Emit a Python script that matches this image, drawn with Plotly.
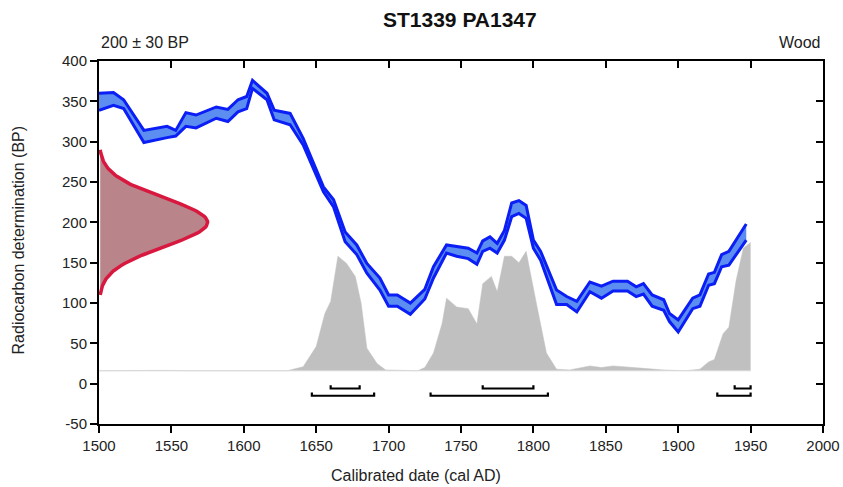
import numpy as np
import plotly.graph_objects as go

# ---- Data ----
c14_mean = 200
c14_sd = 30
red_scale_years = 75  # peak width of measurement curve along x (years)

cal_years = [1500, 1510, 1517, 1531, 1547, 1553, 1560, 1567, 1581, 1589, 1596, 1602, 1606, 1616, 1621,
             1632, 1641, 1655, 1662, 1670, 1678, 1685, 1694, 1700, 1706, 1715, 1725, 1731, 1740, 1747,
             1755, 1761, 1765, 1770, 1775, 1780, 1785, 1790, 1795, 1800, 1805, 1816, 1823, 1830, 1839,
             1847, 1855, 1865, 1871, 1876, 1882, 1890, 1894, 1900, 1910, 1915, 1921, 1925, 1930, 1935, 1947]
cal_upper = [360, 361, 352, 314, 319, 314, 336, 333, 343, 340, 352, 356, 376, 360, 339,
             335, 304, 244, 228, 188, 172, 149, 131, 110, 110, 100, 117, 145, 172, 170,
             168, 162, 177, 182, 174, 190, 224, 227, 221, 178, 164, 116, 108, 102, 126,
             121, 127, 127, 120, 124, 110, 104, 87, 79, 106, 110, 136, 138, 160, 164, 198]
cal_lower = [339, 345, 341, 299, 305, 307, 319, 317, 329, 325, 337, 341, 366, 352, 327,
             321, 296, 238, 219, 176, 160, 137, 116, 96, 96, 86, 105, 131, 162, 158,
             155, 148, 164, 168, 162, 178, 207, 211, 205, 168, 153, 98, 98, 89, 114,
             106, 115, 115, 108, 111, 96, 91, 77, 64, 93, 96, 122, 124, 145, 147, 178]

post_years = [1500, 1520, 1530, 1545, 1560, 1600, 1630, 1641, 1650, 1656, 1660, 1665, 1671, 1677, 1681,
              1685, 1692, 1698, 1710, 1720, 1725, 1731, 1737, 1740, 1747, 1755, 1761, 1765, 1771, 1775,
              1780, 1785, 1790, 1795, 1802, 1809, 1816, 1825, 1839, 1847, 1855, 1865, 1876, 1890, 1905,
              1915, 1921, 1925, 1931, 1935, 1940, 1945, 1950]
post_values = [16, 16.5, 17, 16.5, 16, 16, 16, 21, 46, 87, 102, 158, 149, 133, 100,
               44, 25, 17, 16, 16, 20, 38, 75, 106, 95, 93, 74, 124, 133, 114,
               158, 158, 150, 164, 100, 38, 18, 17, 22, 20, 22, 21, 19, 17, 16,
               18, 27, 30, 62, 70, 128, 168, 175]
post_base = 16

range68 = [(1660, 1680), (1765, 1800), (1939, 1950)]
range95 = [(1647, 1690), (1729, 1810), (1927, 1950)]
y68, y95, cap = -6, -15, 4

x_ticks = list(range(1500, 2001, 50))
y_ticks = list(range(-50, 401, 50))
y_ticktext = [str(v) for v in y_ticks]

# ---- Derived ----
ygrid = np.linspace(c14_mean - 3 * c14_sd, c14_mean + 3 * c14_sd, 121)
dens = np.exp(-0.5 * ((ygrid - c14_mean) / c14_sd) ** 2)
red_x = 1500 + red_scale_years * dens

def bracket_path(ranges, y0):
    xs, ys = [], []
    for a, b in ranges:
        xs += [a, a, b, b, None]
        ys += [y0 + cap, y0, y0, y0 + cap, None]
    return xs, ys

fig = go.Figure()

# posterior (grey)
fig.add_trace(go.Scatter(x=[post_years[0], post_years[-1]], y=[post_base, post_base], mode="lines",
                         line=dict(color="rgba(0,0,0,0)", width=0), showlegend=False, hoverinfo="skip"))
fig.add_trace(go.Scatter(x=post_years, y=post_values, mode="lines", fill="tonexty",
                         fillcolor="#c0c0c0", line=dict(color="#c0c0c0", width=0.5), showlegend=False))
fig.add_trace(go.Scatter(x=[1500, 1950], y=[post_base, post_base], mode="lines",
                         line=dict(color="#d8d8d8", width=1), showlegend=False, hoverinfo="skip"))

# range brackets
for rng, yl in [(range68, y68), (range95, y95)]:
    bx, by = bracket_path(rng, yl)
    fig.add_trace(go.Scatter(x=bx, y=by, mode="lines", line=dict(color="black", width=2.2),
                             showlegend=False))

# measurement (red)
fig.add_trace(go.Scatter(x=red_x, y=ygrid, mode="lines", fill="toself", fillcolor="#b9848a",
                         line=dict(color="#d8183f", width=3.5), showlegend=False))

# calibration curve (blue band)
fig.add_trace(go.Scatter(x=cal_years, y=cal_upper, mode="lines",
                         line=dict(color="#0a1ef5", width=3), showlegend=False))
fig.add_trace(go.Scatter(x=cal_years, y=cal_lower, mode="lines", fill="tonexty",
                         fillcolor="#5b8ef0", line=dict(color="#0a1ef5", width=3), showlegend=False))

# dummy trace for mirror axes
fig.add_trace(go.Scatter(x=[1500], y=[0], xaxis="x2", yaxis="y2", mode="markers",
                         marker=dict(opacity=0), showlegend=False, hoverinfo="skip"))

font = "Liberation Sans, Arial, sans-serif"
axis_common = dict(showline=True, linecolor="black", linewidth=2, showgrid=False, zeroline=False,
                   tickwidth=2, tickcolor="black", ticklen=7, automargin=False)

fig.update_layout(
    width=843, height=487,
    margin=dict(l=99, r=20, t=61, b=63),
    plot_bgcolor="white", paper_bgcolor="white",
    font=dict(family=font, size=15, color="#222"),
    xaxis=dict(range=[1500, 2000], tickvals=x_ticks, ticks="outside",
               tickfont=dict(size=15), **axis_common),
    yaxis=dict(range=[-50, 400], tickvals=y_ticks, ticktext=y_ticktext, ticks="outside",
               tickfont=dict(size=15), **axis_common),
    xaxis2=dict(range=[1500, 2000], tickvals=x_ticks, ticks="inside",
                overlaying="x", side="top", showticklabels=False, anchor="y", **axis_common),
    yaxis2=dict(range=[-50, 400], tickvals=y_ticks, ticks="inside",
                overlaying="y", side="right", showticklabels=False, anchor="x", **axis_common),
    annotations=[
        dict(text="<b>ST1339 PA1347</b>", x=0.498, y=1.1157, xref="paper", yref="paper",
             xanchor="center", yanchor="middle", showarrow=False, font=dict(size=21, color="#111")),
        dict(text="200 ± 30 BP", x=0.0, y=1.0496, xref="paper", yref="paper",
             xanchor="left", yanchor="middle", showarrow=False, font=dict(size=16)),
        dict(text="Wood", x=1.0, y=1.0496, xref="paper", yref="paper",
             xanchor="right", yanchor="middle", showarrow=False, font=dict(size=16)),
        dict(text="Calibrated date (cal AD)", x=0.4378, y=-0.1405, xref="paper", yref="paper",
             xanchor="center", yanchor="middle", showarrow=False, font=dict(size=16)),
        dict(text="Radiocarbon determination (BP)", x=-0.1112, y=0.507, xref="paper", yref="paper",
             xanchor="center", yanchor="middle", showarrow=False, textangle=-90, font=dict(size=16)),
    ],
)

fig.write_html("out.html", config={"displayModeBar": False},
               post_script="document.body.style.margin='0';document.body.style.overflow='hidden';")
